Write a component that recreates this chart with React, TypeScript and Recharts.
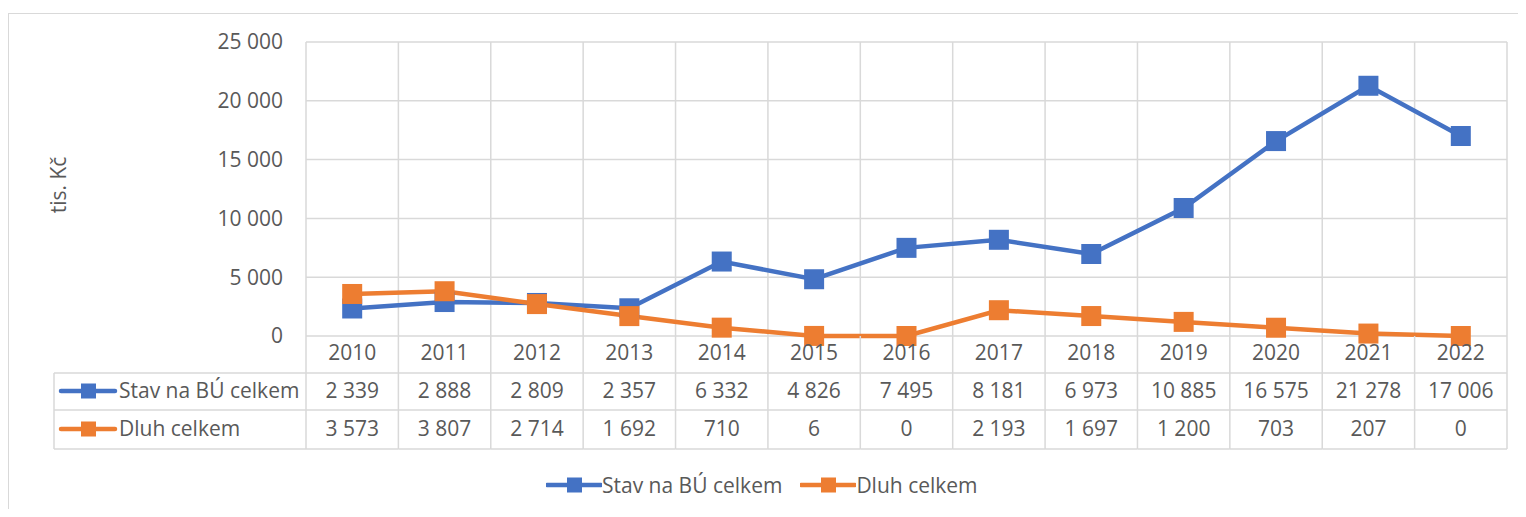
import React from 'react'
import { CartesianGrid, Line, LineChart, XAxis, YAxis } from 'recharts'

const years = ['2010', '2011', '2012', '2013', '2014', '2015', '2016', '2017', '2018', '2019', '2020', '2021', '2022']
const stavNaBU = [2339, 2888, 2809, 2357, 6332, 4826, 7495, 8181, 6973, 10885, 16575, 21278, 17006]
const dluhCelkem = [3573, 3807, 2714, 1692, 710, 6, 0, 2193, 1697, 1200, 703, 207, 0]
const yTicks = [0, 5000, 10000, 15000, 20000, 25000]
const seriesNames = ['Stav na BÚ celkem', 'Dluh celkem']

const BLUE = '#4472C4'
const ORANGE = '#ED7D31'
const GRID = '#d9d9d9'
const TEXT = '#595959'
const FONT = '"Open Sans", sans-serif'
const FS = 21

const W = 1518
const H = 501
const MARGIN = { top: 34, right: 19, left: 0, bottom: 0 }
const YAXIS_W = 298
const XAXIS_H = 173
const PLOT_BOTTOM = H - XAXIS_H
const BAND = (W - YAXIS_W - MARGIN.right) / years.length
const ROW_LINES = [365, 402, 441]
const ROW_TEXT = [345, 383, 421]
const TABLE_LEFT = 46

const fmt = (n: number) => String(n).replace(/\B(?=(\d{3})+(?!\d))/g, ' ')

const data = years.map((y, i) => ({ year: y, stav: stavNaBU[i], dluh: dluhCelkem[i] }))
const colors = [BLUE, ORANGE]
const rows = [stavNaBU, dluhCelkem]

function SquareDot({ cx, cy, fill }: any) {
  if (cx == null || cy == null) return null
  return <rect x={cx - 10} y={cy - 10} width={20} height={20} fill={fill} />
}

function LegendIcon({ x, y, color }: { x: number; y: number; color: string }) {
  return (
    <g>
      <line x1={x} y1={y} x2={x + 54} y2={y} stroke={color} strokeWidth={4.5} strokeLinecap="round" />
      <rect x={x + 20} y={y - 7.5} width={15} height={15} fill={color} />
    </g>
  )
}

function TableTick(props: any) {
  const { x, index } = props
  const i = index ?? props.payload?.index ?? 0
  const l = x - BAND / 2
  const r = x + BAND / 2
  const txt = { fill: TEXT, fontSize: FS, fontFamily: FONT, textAnchor: 'middle' as const }
  return (
    <g>
      <line x1={r} y1={PLOT_BOTTOM} x2={r} y2={ROW_LINES[2]} stroke={GRID} strokeWidth={1.5} />
      {ROW_LINES.map((ly) => (
        <line key={ly} x1={l} y1={ly} x2={r} y2={ly} stroke={GRID} strokeWidth={1.5} />
      ))}
      <text x={x} y={ROW_TEXT[0] + 7} {...txt}>{years[i]}</text>
      {rows.map((row, k) => (
        <text key={k} x={x} y={ROW_TEXT[k + 1] + 7} {...txt}>{fmt(row[i])}</text>
      ))}
      {i === 0 && (
        <g>
          <line x1={l} y1={PLOT_BOTTOM} x2={l} y2={ROW_LINES[2]} stroke={GRID} strokeWidth={1.5} />
          <line x1={TABLE_LEFT} y1={ROW_LINES[0]} x2={TABLE_LEFT} y2={ROW_LINES[2]} stroke={GRID} strokeWidth={1.5} />
          {ROW_LINES.map((ly) => (
            <line key={ly} x1={TABLE_LEFT} y1={ly} x2={l} y2={ly} stroke={GRID} strokeWidth={1.5} />
          ))}
          {seriesNames.map((name, k) => (
            <g key={name}>
              <LegendIcon x={53} y={ROW_TEXT[k + 1]} color={colors[k]} />
              <text x={111} y={ROW_TEXT[k + 1] + 7} fill={TEXT} fontSize={FS} fontFamily={FONT}>{name}</text>
            </g>
          ))}
        </g>
      )}
    </g>
  )
}

function YLabel() {
  return (
    <text
      x={50}
      y={177}
      transform="rotate(-90 50 177)"
      textAnchor="middle"
      dominantBaseline="central"
      fill={TEXT}
      fontSize={FS}
      fontFamily={FONT}
    >
      tis. Kč
    </text>
  )
}

export default function App() {
  return (
    <div style={{ position: 'relative', width: W, height: H, overflow: 'hidden', fontFamily: FONT }}>
      <div
        style={{
          position: 'absolute', left: 0, top: 5, width: W + 100, height: H + 100,
          border: `1.5px solid ${GRID}`, boxSizing: 'border-box',
        }}
      />
      <div style={{ position: 'absolute', left: 0, top: 0 }}>
        <LineChart width={W} height={H} data={data} margin={MARGIN}>
          <CartesianGrid
            stroke={GRID}
            strokeWidth={1.5}
            verticalCoordinatesGenerator={({ offset }: any) =>
              years.concat(['']).map((_, i) => offset.left + (i * offset.width) / years.length)
            }
          />
          <XAxis
            dataKey="year"
            scale="band"
            interval={0}
            height={XAXIS_H}
            axisLine={false}
            tickLine={false}
            tick={<TableTick />}
          />
          <YAxis
            width={YAXIS_W}
            domain={[0, 25000]}
            ticks={yTicks}
            tickFormatter={fmt}
            axisLine={false}
            tickLine={false}
            tickSize={0}
            tickMargin={23}
            tick={{ fill: TEXT, fontSize: FS, fontFamily: FONT }}
            label={<YLabel />}
          />
          <Line
            dataKey="stav"
            name={seriesNames[0]}
            stroke={BLUE}
            strokeWidth={4.5}
            dot={<SquareDot fill={BLUE} />}
            activeDot={false}
            isAnimationActive={false}
          />
          <Line
            dataKey="dluh"
            name={seriesNames[1]}
            stroke={ORANGE}
            strokeWidth={4.5}
            dot={<SquareDot fill={ORANGE} />}
            activeDot={false}
            isAnimationActive={false}
          />
        </LineChart>
      </div>
      <div style={{ position: 'absolute', left: 538, top: 465, display: 'flex', gap: 18, alignItems: 'center' }}>
        {seriesNames.map((name, k) => (
          <div key={name} style={{ display: 'flex', alignItems: 'center', height: 24 }}>
            <svg width={56} height={24}>
              <LegendIcon x={1} y={12} color={colors[k]} />
            </svg>
            <span style={{ color: TEXT, fontSize: FS, marginLeft: 0, lineHeight: '24px' }}>{name}</span>
          </div>
        ))}
      </div>
    </div>
  )
}
